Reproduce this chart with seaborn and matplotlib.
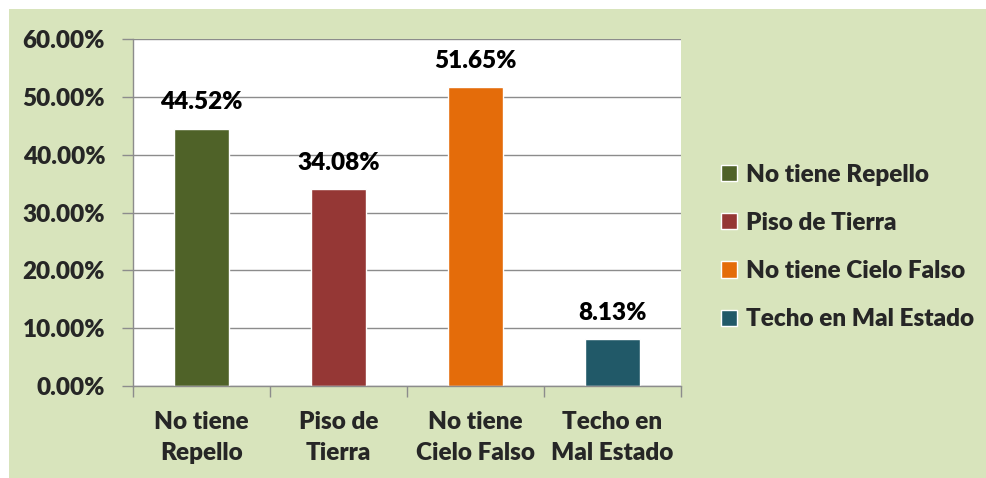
import matplotlib
matplotlib.use("Agg")
import matplotlib.pyplot as plt
import seaborn as sns
import pandas as pd
from matplotlib.patches import Rectangle
from matplotlib.ticker import FuncFormatter, MultipleLocator, FixedLocator

categories = ["No tiene Repello", "Piso de Tierra", "No tiene Cielo Falso", "Techo en Mal Estado"]
tick_labels = ["No tiene\nRepello", "Piso de\nTierra", "No tiene\nCielo Falso", "Techo en\nMal Estado"]
values = [44.52, 34.08, 51.65, 8.13]
colors = ["#4F6228", "#953735", "#E46C0A", "#215968"]

sns.set_theme(style="white")
plt.rcParams['font.family'] = ['Lato', 'DejaVu Sans']
W = "heavy"
FS = 17.5

df = pd.DataFrame({"cat": categories, "val": values})

fig = plt.figure(figsize=(9.86, 4.78), dpi=100, facecolor="white")
bg = "#D8E4BC"
fig.patches.append(Rectangle((9/986, 0), 1 - 9/986, 1 - 9/478, transform=fig.transFigure,
                             facecolor=bg, edgecolor="none", zorder=-10))

ax = fig.add_axes([133/986, 1 - 386/478, (681-133)/986, (386-39)/478])
ax.set_facecolor("white")

sns.barplot(data=df, x="cat", y="val", hue="cat", palette=colors, width=0.4,
            dodge=False, legend=True, ax=ax, saturation=1)

ax.set_ylim(0, 60)
ax.yaxis.set_major_locator(MultipleLocator(10))
ax.yaxis.set_major_formatter(FuncFormatter(lambda v, p: f"{v:.2f}%"))
ax.grid(axis="y", color="#8C8C8C", linewidth=1)
ax.set_axisbelow(True)

ax.set_xlim(-0.5, 3.5)
ax.set_xticks(range(4))
ax.set_xticklabels(tick_labels, fontsize=FS, fontweight=W, linespacing=1.5)
ax.xaxis.set_minor_locator(FixedLocator([-0.5, 0.5, 1.5, 2.5, 3.5]))
ax.tick_params(axis="x", which="major", length=0, pad=18)
ax.tick_params(axis="x", which="minor", length=8, color="#8C8C8C", width=1, bottom=True)
ax.tick_params(axis="y", which="major", length=8, color="#8C8C8C", width=1, left=True,
               labelsize=FS, pad=12)
for lab in ax.get_yticklabels():
    lab.set_fontweight(W)

for s in ["top", "right"]:
    ax.spines[s].set_visible(False)
for s in ["left", "bottom"]:
    ax.spines[s].set_color("#8C8C8C")
    ax.spines[s].set_linewidth(1)

ax.set_xlabel("")
ax.set_ylabel("")

for i, v in enumerate(values):
    ax.annotate(f"{v:.2f}%", (i, v), xytext=(0, 11), textcoords="offset points",
                ha="center", va="bottom", fontsize=FS, fontweight=W, color="black")

handles, labels = ax.get_legend_handles_labels()
ax.get_legend().remove()
fig.legend(handles, labels, loc="center left", bbox_to_anchor=(699/986, 1 - 247/478),
           frameon=False, handlelength=0.65, handleheight=0.65, handletextpad=0.37,
           labelspacing=1.08, prop={"size": FS, "weight": W})

fig.savefig("out.png", dpi=100, facecolor=fig.get_facecolor())
